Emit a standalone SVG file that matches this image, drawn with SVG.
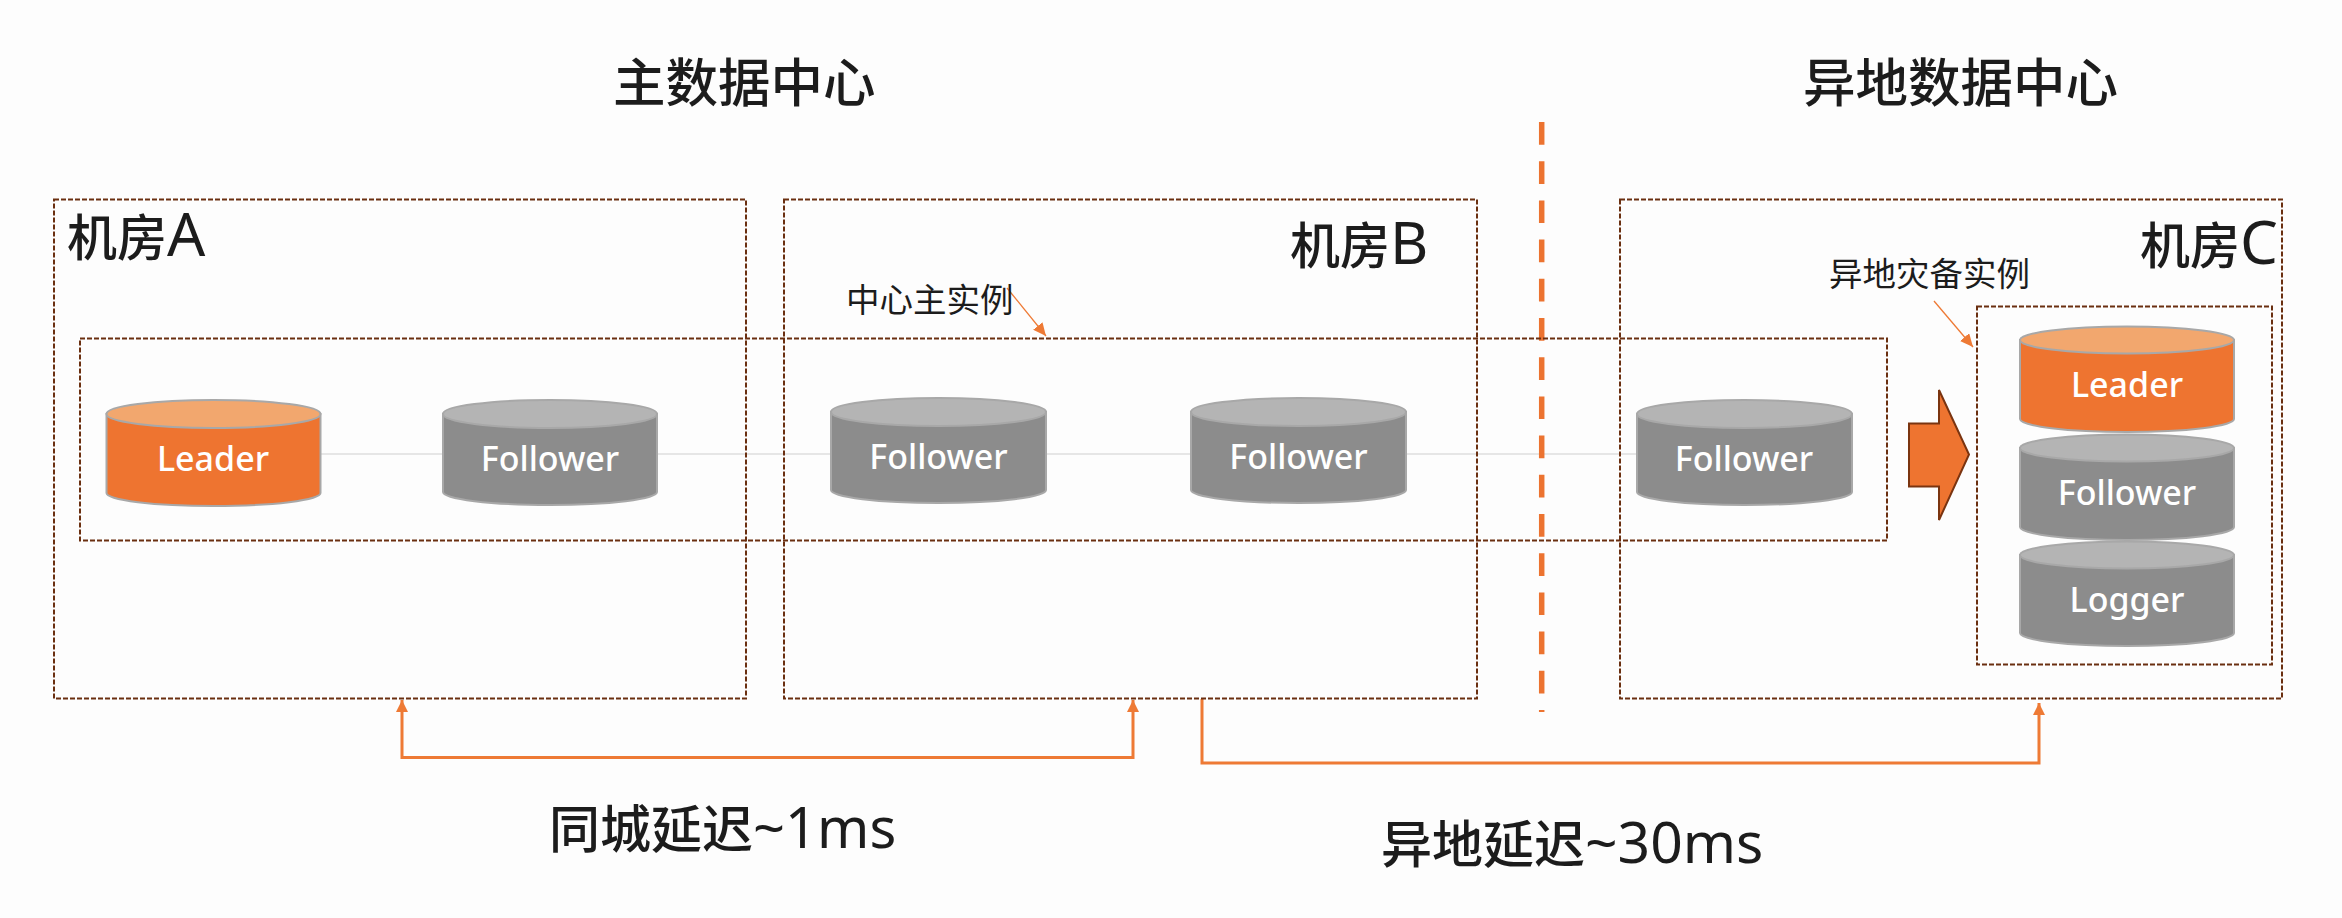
<svg xmlns="http://www.w3.org/2000/svg" width="2342" height="918" viewBox="0 0 2342 918">
<style>
.cn{font-family:"Noto Sans","Noto Sans CJK SC",sans-serif;fill:#1c1c1c;font-weight:500}
.sm{font-weight:400}
.la{font-family:"Noto Sans",sans-serif;font-weight:400}
.lb{font-family:"Noto Sans",sans-serif;font-size:34px;fill:#fff;text-anchor:middle;font-weight:500}
.box{fill:none;stroke:#6a2f10;stroke-width:2;stroke-dasharray:5 2}
.gb{fill:#8c8c8c;stroke:#a8a8a8;stroke-width:2}
.gt{fill:#b4b4b4;stroke:#a8a8a8;stroke-width:2}
.ob{fill:#ee7430;stroke:#a8a8a8;stroke-width:2}
.ot{fill:#f2a76e;stroke:#a8a8a8;stroke-width:2}
.conn{fill:none;stroke:#ee7a35;stroke-width:3}
.thin{fill:none;stroke:#ee7a35;stroke-width:1.3}
</style>
<defs>
<marker id="a" markerUnits="userSpaceOnUse" markerWidth="14" markerHeight="14" refX="12" refY="6" orient="auto-start-reverse"><path d="M0 0L12 6L0 12Z" fill="#ee7a35"/></marker>
<marker id="b" markerUnits="userSpaceOnUse" markerWidth="14" markerHeight="14" refX="13" refY="6" orient="auto"><path d="M0 0L13 6L0 12Z" fill="#ee7a35"/></marker>
</defs>
<rect width="2342" height="918" fill="#fdfdfd"/>
<g id="connectors">
<path d="M320 454H1637" fill="none" stroke="#dedede" stroke-width="1.5"/>
<path class="conn" d="M402 700V757.500H1133V700" marker-start="url(#a)" marker-end="url(#a)"/>
<path class="conn" d="M1202 699V763H2039V703" marker-end="url(#a)"/>
<path class="thin" d="M1007 288L1046 336" marker-end="url(#b)"/>
<path class="thin" d="M1934 301L1973 347" marker-end="url(#b)"/>
</g>
<g id="divider"><path d="M1541.700 122V712" fill="none" stroke="#ec7330" stroke-width="5.500" stroke-dasharray="22.700 16.500"/></g>
<g id="room-a"><rect class="box" x="54" y="199.500" width="692" height="499"/><text class="cn" x="67" y="256" font-size="50">机房<tspan class="la" font-size="60">A</tspan></text></g>
<g id="room-b"><rect class="box" x="784" y="199.500" width="693" height="499"/><text class="cn" x="1290" y="264" font-size="50">机房<tspan class="la" font-size="59">B</tspan></text></g>
<g id="room-c"><rect class="box" x="1620" y="199.500" width="662" height="499"/><text class="cn" x="2140" y="264" font-size="50">机房<tspan class="la" font-size="60">C</tspan></text></g>
<g id="center-group"><rect class="box" x="80" y="338.500" width="1807" height="202"/></g>
<g id="backup-group"><rect class="box" x="1977" y="306.500" width="295" height="358"/></g>
<g id="title-main"><text class="cn" x="613" y="102" font-size="52.500">主数据中心</text></g>
<g id="title-remote"><text class="cn" x="1803" y="102" font-size="52.500">异地数据中心</text></g>
<g id="label-center"><text class="cn sm" x="846" y="312" font-size="33.500">中心主实例</text></g>
<g id="label-backup"><text class="cn sm" x="1829" y="286" font-size="33.500">异地灾备实例</text></g>
<g id="label-city"><text class="cn" x="549" y="848" font-size="51">同城延迟<tspan class="la" font-size="56">~1ms</tspan></text></g>
<g id="label-remote"><text class="cn" x="1381" y="863" font-size="51">异地延迟<tspan class="la" font-size="57">~30ms</tspan></text></g>
<g id="leader-a"><path class="ob" d="M106.500 414V493A107 13 0 0 0 320.500 493V414Z"/><ellipse class="ot" cx="213.500" cy="414" rx="107" ry="14"/><text class="lb" x="213" y="471">Leader</text></g>
<g id="follower-a"><path class="gb" d="M443 414V492A107 13 0 0 0 657 492V414Z"/><ellipse class="gt" cx="550" cy="414" rx="107" ry="14"/><text class="lb" x="550" y="471">Follower</text></g>
<g id="follower-b1"><path class="gb" d="M831 412V490A107.500 13 0 0 0 1046 490V412Z"/><ellipse class="gt" cx="938.500" cy="412" rx="107.500" ry="14"/><text class="lb" x="938.500" y="469">Follower</text></g>
<g id="follower-b2"><path class="gb" d="M1191 412V490A107.500 13 0 0 0 1406 490V412Z"/><ellipse class="gt" cx="1298.500" cy="412" rx="107.500" ry="14"/><text class="lb" x="1298.500" y="469">Follower</text></g>
<g id="follower-c1"><path class="gb" d="M1637 414V492A107.500 13 0 0 0 1852 492V414Z"/><ellipse class="gt" cx="1744.500" cy="414" rx="107.500" ry="14"/><text class="lb" x="1744" y="471">Follower</text></g>
<g id="failover-arrow"><path d="M1909 423.500H1939V390L1969 454.500L1939 520V486.500H1909Z" fill="#ee7430" stroke="#7a3410" stroke-width="2"/></g>
<g id="leader-c"><path class="ob" d="M2020 340V419A107 13 0 0 0 2234 419V340Z"/><ellipse class="ot" cx="2127" cy="340" rx="107" ry="13.500"/><text class="lb" x="2127" y="397">Leader</text></g>
<g id="follower-c2"><path class="gb" d="M2020 448V527A107 13 0 0 0 2234 527V448Z"/><ellipse class="gt" cx="2127" cy="448" rx="107" ry="13.500"/><text class="lb" x="2127" y="505">Follower</text></g>
<g id="logger-c"><path class="gb" d="M2020 555V633A107 13 0 0 0 2234 633V555Z"/><ellipse class="gt" cx="2127" cy="555" rx="107" ry="13.500"/><text class="lb" x="2127" y="612">Logger</text></g>
</svg>
